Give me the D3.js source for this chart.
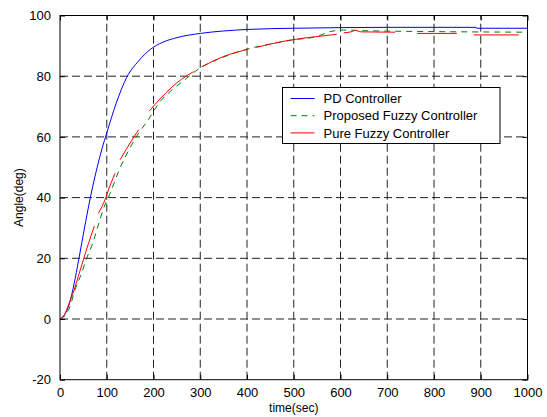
<!DOCTYPE html>
<html>
<head>
<meta charset="utf-8">
<script src="https://cdn.jsdelivr.net/npm/d3@7"></script>
<style>
	body { margin: 0; background: white; }
	text { font-family: "Liberation Sans", Arial, sans-serif; }
</style>
</head>
<body>
<div id="chart"></div>
<script>

// PD controller
var pdTime = [0, 10, 20, 30, 40, 50, 60, 70, 80, 90, 100, 120, 143, 168, 193, 220, 250, 300, 350, 400, 500, 600, 700, 890, 891, 1000];
var pdAngle = [0, 1.5, 5, 11.5, 19.5, 28, 36.2, 43.7, 50.3, 56.2, 61.3, 71, 79.7, 85, 88.8, 91.2, 92.7, 94.1, 94.9, 95.4, 95.8, 96, 96.1, 96.1, 95.8, 95.8];

// Proposed fuzzy controller
var proposedTime = [0, 10, 21, 32, 46, 57, 70, 82, 96, 106, 128, 153, 168, 186, 214, 236, 271, 293, 350, 400, 450, 500, 550, 578, 606, 650, 800, 1000];
var proposedAngle = [0, 1, 4, 9.6, 15, 20, 25, 31, 37.6, 41, 49.6, 57.3, 61.2, 65, 71.6, 75, 79.3, 82, 86.3, 88.9, 90.6, 92, 93.1, 94.7, 95.2, 95, 94.7, 94.5];

// Pure fuzzy controller (null = break in the trace)
var pureTime = [0, 10, 18, 30, 40, 50, 60, 73.5, 78, 82, 98, 103.5, 117.8, 123, 128.5, 150, 168, 180, 191, 214, 240, 260, 285.5, 294, 303, 350, 403, 411, 420, 492.5, 540, 592, 600, 607, 625, 630, 645, 717, 740, 764, 849, 867, 885, 981];
var pureAngle = [0, 1.5, 4.6, 9.5, 14.5, 19.5, 24.5, 30.6, null, 34.8, 40, 42.5, 48, null, 52.5, 58, 62.3, null, 68.5, 72.5, 76.5, 79, 81.5, null, 83.1, 86.5, 88.9, null, 89.5, 91.9, 92.9, 93.8, null, 94.3, 94.7, 95.1, 94.6, 94.5, null, 94.1, 94.1, null, 93.6, 93.6];

var xTicks = [0, 100, 200, 300, 400, 500, 600, 700, 800, 900, 1000];
var yTicks = [-20, 0, 20, 40, 60, 80, 100];

var legendLabels = ['PD Controller', 'Proposed Fuzzy Controller', 'Pure Fuzzy Controller'];

var width = 547, height = 417;
var plotLeft = 60, plotRight = 527.5, plotTop = 15.5, plotBottom = 379.7;
var tickLength = 5;

var svg = d3.select('#chart').append('svg')
		.attr('width', width)
		.attr('height', height);

var x = d3.scaleLinear().domain([0, 1000]).range([plotLeft, plotRight]);
var y = d3.scaleLinear().domain([-20, 100]).range([plotBottom, plotTop]);

/**
 * Builds {t, v} points from a time array and a value array
 */
var toPoints = function(times, values) {
	return times.map(function(t, i) {return {t: t, v: values[i]};});
}

// plain hyphen for negatives, like the original figure
var tickText = function(d) {return String(d);};

// Grid
var grid = svg.append('g');

grid.selectAll('.vgrid').data(xTicks.slice(1, -1)).enter().append('line')
	.attr('class', 'vgrid')
	.attr('x1', function(d) {return x(d);})
	.attr('x2', function(d) {return x(d);})
	.attr('y1', plotBottom)
	.attr('y2', plotTop)
	.style('stroke', '#222')
	.style('stroke-width', 1)
	.style('stroke-dasharray', '8,4');

grid.selectAll('.hgrid').data(yTicks.slice(1, -1)).enter().append('line')
	.attr('class', 'hgrid')
	.attr('x1', plotLeft)
	.attr('x2', plotRight)
	.attr('y1', function(d) {return y(d);})
	.attr('y2', function(d) {return y(d);})
	.style('stroke', '#222')
	.style('stroke-width', 1)
	.style('stroke-dasharray', '8,4');

// Curves
var line = d3.line()
		.defined(function(d) {return d.v != null;})
		.curve(d3.curveMonotoneX)
		.x(function(d) {return x(d.t);})
		.y(function(d) {return y(d.v);});

var series = [
	{points: toPoints(pdTime, pdAngle), color: '#0000ff', dash: null},
	{points: toPoints(proposedTime, proposedAngle), color: '#008000', dash: '6,5'},
	{points: toPoints(pureTime, pureAngle), color: '#ff0000', dash: null}
];

svg.selectAll('.curve').data(series).enter().append('path')
	.attr('class', 'curve')
	.attr('d', function(d) {return line(d.points);})
	.style('fill', 'none')
	.style('stroke', function(d) {return d.color;})
	.style('stroke-width', 1)
	.style('stroke-dasharray', function(d) {return d.dash;});

// Axes (ticks pointing inward, on all four sides)
var fontSize = 13;

svg.append('g')
	.attr('transform', 'translate(0,' + plotBottom + ')')
	.call(d3.axisBottom(x).tickValues(xTicks).tickFormat(tickText).tickSizeInner(-tickLength).tickSizeOuter(0).tickPadding(8))
	.call(function(g) {
		g.select('.domain').remove();
		g.selectAll('text').style('font-size', fontSize + 'px').style('fill', 'black');
	});

svg.append('g')
	.attr('transform', 'translate(0,' + plotTop + ')')
	.call(d3.axisTop(x).tickValues(xTicks).tickSizeInner(-tickLength).tickSizeOuter(0).tickFormat(''))
	.call(function(g) {g.select('.domain').remove();});

svg.append('g')
	.attr('transform', 'translate(' + plotLeft + ',0)')
	.call(d3.axisLeft(y).tickValues(yTicks).tickFormat(tickText).tickSizeInner(-tickLength).tickSizeOuter(0).tickPadding(9))
	.call(function(g) {
		g.select('.domain').remove();
		g.selectAll('text').style('font-size', fontSize + 'px').style('fill', 'black');
	});

svg.append('g')
	.attr('transform', 'translate(' + plotRight + ',0)')
	.call(d3.axisRight(y).tickValues(yTicks).tickSizeInner(-tickLength).tickSizeOuter(0).tickFormat(''))
	.call(function(g) {g.select('.domain').remove();});

svg.append('rect')
	.attr('x', plotLeft)
	.attr('y', plotTop)
	.attr('width', plotRight - plotLeft)
	.attr('height', plotBottom - plotTop)
	.style('fill', 'none')
	.style('stroke', 'black')
	.style('stroke-width', 1);

// Axis titles
svg.append('text')
	.attr('x', (plotLeft + plotRight) / 2)
	.attr('y', 412)
	.attr('text-anchor', 'middle')
	.style('font-size', '12px')
	.text('time(sec)');

svg.append('text')
	.attr('transform', 'translate(23,' + (plotTop + plotBottom) / 2 + ') rotate(-90)')
	.attr('text-anchor', 'middle')
	.style('font-size', '12px')
	.text('Angle(deg)');

// Legend
var legend = svg.append('g').attr('transform', 'translate(282.5,87.5)');

legend.append('rect')
	.attr('width', 217.5)
	.attr('height', 56)
	.style('fill', 'white')
	.style('stroke', 'black')
	.style('stroke-width', 1);

var rows = legend.selectAll('.row').data(series).enter().append('g')
		.attr('class', 'row')
		.attr('transform', function(d, i) {return 'translate(0,' + (11 + i * 17.2) + ')';});

rows.append('line')
	.attr('x1', 8)
	.attr('x2', 32)
	.style('stroke', function(d) {return d.color;})
	.style('stroke-width', 1)
	.style('stroke-dasharray', function(d) {return d.dash;});

rows.append('text')
	.attr('x', 41)
	.attr('dy', '0.36em')
	.style('font-size', '13px')
	.text(function(d, i) {return legendLabels[i];});

</script>
</body>
</html>
